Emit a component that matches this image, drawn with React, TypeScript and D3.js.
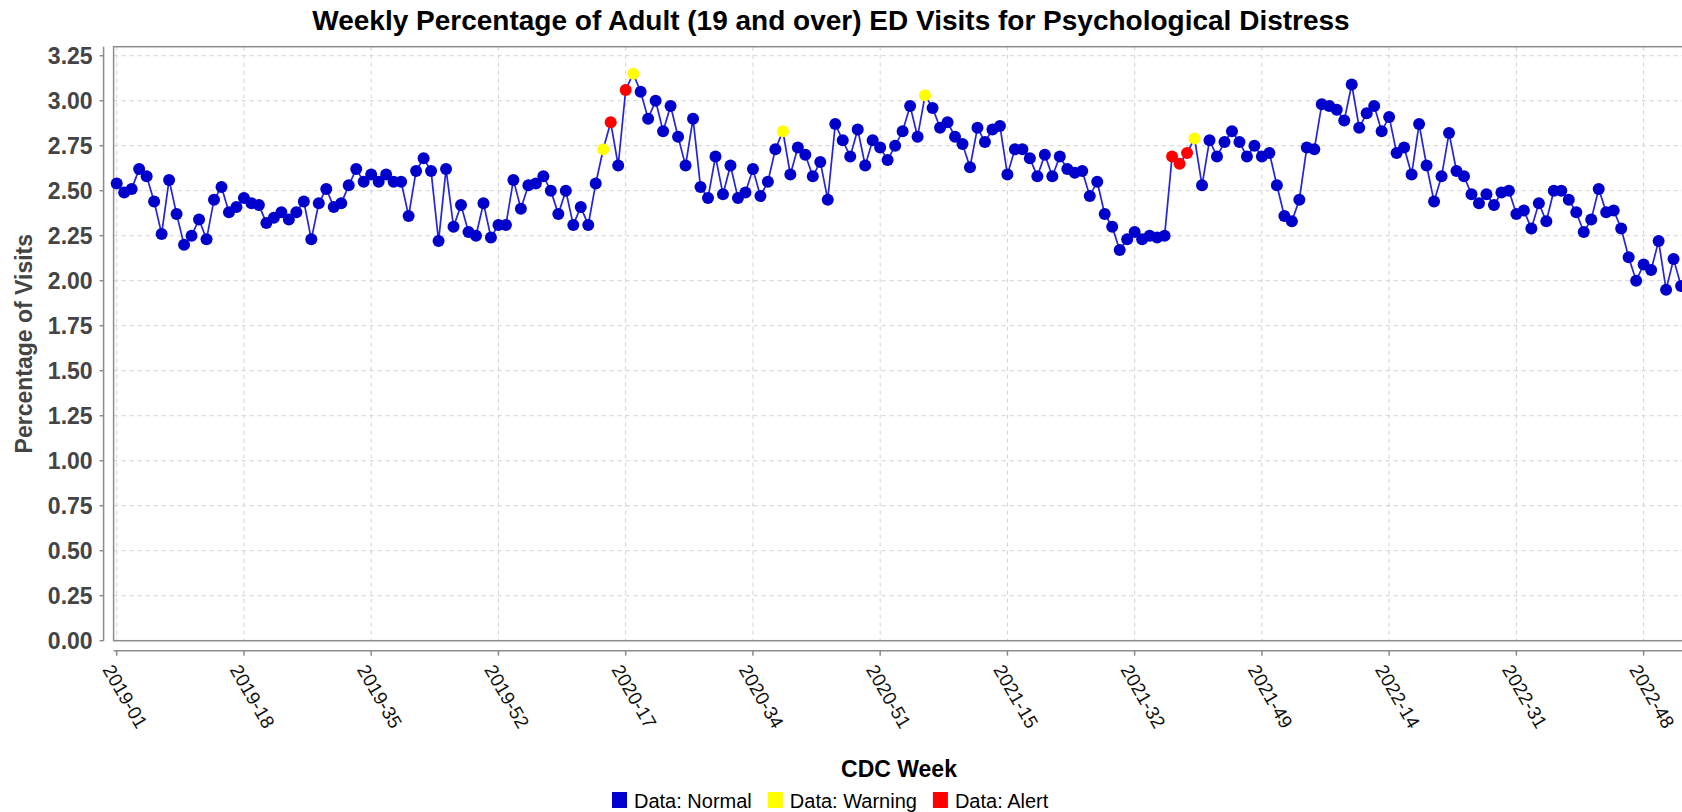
import React, { useEffect, useRef } from 'react';
import * as d3 from 'd3';

// CDC weeks shown on the category axis (2020 has 53 weeks)
const yearWeeks: [number, number][] = [[2019, 52], [2020, 53], [2021, 52], [2022, 52], [2023, 1]];
const weeks: string[] = yearWeeks.flatMap(([yr, n]) =>
  d3.range(1, n + 1).map(w => `${yr}-${String(w).padStart(2, '0')}`));

const percentValues: number[] = [
  2.54, 2.49, 2.51, 2.62, 2.58, 2.44, 2.26, 2.56, 2.37, 2.20,
  2.25, 2.34, 2.23, 2.45, 2.52, 2.38, 2.41, 2.46, 2.43, 2.42,
  2.32, 2.35, 2.38, 2.34, 2.38, 2.44, 2.23, 2.43, 2.51, 2.41,
  2.43, 2.53, 2.62, 2.55, 2.59, 2.55, 2.59, 2.55, 2.55, 2.36,
  2.61, 2.68, 2.61, 2.22, 2.62, 2.30, 2.42, 2.27, 2.25, 2.43,
  2.24, 2.31, 2.31, 2.56, 2.40, 2.53, 2.54, 2.58, 2.50, 2.37,
  2.50, 2.31, 2.41, 2.31, 2.54, 2.73, 2.88, 2.64, 3.06, 3.15,
  3.05, 2.90, 3.00, 2.83, 2.97, 2.80, 2.64, 2.90, 2.52, 2.46,
  2.69, 2.48, 2.64, 2.46, 2.49, 2.62, 2.47, 2.55, 2.73, 2.83,
  2.59, 2.74, 2.70, 2.58, 2.66, 2.45, 2.87, 2.78, 2.69, 2.84,
  2.64, 2.78, 2.74, 2.67, 2.75, 2.83, 2.97, 2.80, 3.03, 2.96,
  2.85, 2.88, 2.80, 2.76, 2.63, 2.85, 2.77, 2.84, 2.86, 2.59,
  2.73, 2.73, 2.68, 2.58, 2.70, 2.58, 2.69, 2.62, 2.60, 2.61,
  2.47, 2.55, 2.37, 2.30, 2.17, 2.23, 2.27, 2.23, 2.25, 2.24,
  2.25, 2.69, 2.65, 2.71, 2.79, 2.53, 2.78, 2.69, 2.77, 2.83,
  2.77, 2.69, 2.75, 2.69, 2.71, 2.53, 2.36, 2.33, 2.45, 2.74,
  2.73, 2.98, 2.97, 2.95, 2.89, 3.09, 2.85, 2.93, 2.97, 2.83,
  2.91, 2.71, 2.74, 2.59, 2.87, 2.64, 2.44, 2.58, 2.82, 2.61,
  2.58, 2.48, 2.43, 2.48, 2.42, 2.49, 2.50, 2.37, 2.39, 2.29,
  2.43, 2.33, 2.50, 2.50, 2.45, 2.38, 2.27, 2.34, 2.51, 2.38,
  2.39, 2.29, 2.13, 2.00, 2.09, 2.06, 2.22, 1.95, 2.12, 1.97,
];

const warningWeeks = ['2020-14', '2020-18', '2020-38', '2021-04', '2021-40'];
const alertWeeks = ['2020-15', '2020-17', '2021-37', '2021-38', '2021-39'];

const yTicks = [0, 0.25, 0.5, 0.75, 1, 1.25, 1.5, 1.75, 2, 2.25, 2.5, 2.75, 3, 3.25];
const xTickLabels = ['2019-01', '2019-18', '2019-35', '2019-52', '2020-17', '2020-34', '2020-51',
  '2021-15', '2021-32', '2021-49', '2022-14', '2022-31', '2022-48'];

const legendItems = [
  { label: 'Data: Normal', color: '#0000cc' },
  { label: 'Data: Warning', color: '#ffff00' },
  { label: 'Data: Alert', color: '#ff0000' },
];

const FONT = '"Liberation Sans", Arial, sans-serif';

const App: React.FC = () => {
  const svgRef = useRef<SVGSVGElement>(null);

  useEffect(() => {
    if (!svgRef.current) return;
    const svg = d3.select(svgRef.current);
    svg.selectAll('*').remove();

    const width = 1682;
    const plot = { left: 113.6, right: 1690, top: 46.7, bottom: 640.7 };

    const x = d3.scalePoint<string>().domain(weeks).range([116.7, 116.7 + 7.485 * (weeks.length - 1)]);
    const y = d3.scaleLinear().domain([0, 3.25]).range([640.7, 55.7]);

    const points = weeks.map((w, i) => ({
      week: w,
      value: percentValues[i],
      status: alertWeeks.includes(w) ? 'alert' : warningWeeks.includes(w) ? 'warning' : 'normal',
    }));

    // title
    svg.append('text')
      .attr('x', 831).attr('y', 29.5)
      .attr('text-anchor', 'middle')
      .attr('font-family', FONT).attr('font-weight', 'bold').attr('font-size', 28)
      .attr('fill', '#000')
      .text('Weekly Percentage of Adult (19 and over) ED Visits for Psychological Distress');

    // grid
    const grid = svg.append('g');
    grid.selectAll('.hgrid').data(yTicks).enter().append('line')
      .attr('x1', plot.left).attr('x2', plot.right)
      .attr('y1', d => y(d)).attr('y2', d => y(d))
      .attr('stroke', '#d2d2d2').attr('stroke-width', 1).attr('stroke-dasharray', '4,4');
    grid.selectAll('.vgrid').data(xTickLabels).enter().append('line')
      .attr('x1', d => x(d)!).attr('x2', d => x(d)!)
      .attr('y1', plot.top).attr('y2', plot.bottom)
      .attr('stroke', '#d2d2d2').attr('stroke-width', 1).attr('stroke-dasharray', '4,4');

    // plot frame
    svg.append('rect')
      .attr('x', plot.left).attr('y', plot.top)
      .attr('width', plot.right - plot.left).attr('height', plot.bottom - plot.top)
      .attr('fill', 'none').attr('stroke', '#8c8c8c').attr('stroke-width', 1.5);

    // y axis
    const yAxis = svg.append('g').attr('transform', 'translate(103.6,0)');
    yAxis.append('line').attr('y1', plot.top).attr('y2', plot.bottom)
      .attr('stroke', '#8c8c8c').attr('stroke-width', 1.5);
    const yt = yAxis.selectAll('.yt').data(yTicks).enter().append('g')
      .attr('transform', d => `translate(0,${y(d)})`);
    yt.append('line').attr('x1', -4).attr('x2', 0).attr('stroke', '#8c8c8c').attr('stroke-width', 1.5);
    yt.append('text')
      .attr('x', -11).attr('dy', '0.36em')
      .attr('text-anchor', 'end')
      .attr('font-family', FONT).attr('font-weight', 'bold').attr('font-size', 23)
      .attr('fill', '#444')
      .text(d => d3.format('.2f')(d));

    svg.append('text')
      .attr('transform', `translate(32,${(plot.top + plot.bottom) / 2}) rotate(-90)`)
      .attr('text-anchor', 'middle')
      .attr('font-family', FONT).attr('font-weight', 'bold').attr('font-size', 23)
      .attr('fill', '#444')
      .text('Percentage of Visits');

    // x axis
    const xAxis = svg.append('g').attr('transform', 'translate(0,650.7)');
    xAxis.append('line').attr('x1', plot.left).attr('x2', width + 10)
      .attr('stroke', '#8c8c8c').attr('stroke-width', 1.5);
    const xt = xAxis.selectAll('.xt').data(xTickLabels).enter().append('g')
      .attr('transform', d => `translate(${x(d)},0)`);
    xt.append('line').attr('y1', 0).attr('y2', 5).attr('stroke', '#8c8c8c').attr('stroke-width', 1.5);
    xt.append('text')
      .attr('transform', 'translate(-3,12) rotate(60)')
      .attr('dominant-baseline', 'hanging')
      .attr('font-family', FONT).attr('font-size', 19)
      .attr('fill', '#111')
      .text(d => d);

    svg.append('text')
      .attr('x', 899).attr('y', 777)
      .attr('text-anchor', 'middle')
      .attr('font-family', FONT).attr('font-weight', 'bold').attr('font-size', 23)
      .attr('fill', '#000')
      .text('CDC Week');

    // series
    const line = d3.line<{ week: string; value: number }>()
      .x(d => x(d.week)!)
      .y(d => y(d.value));
    svg.append('path')
      .datum(points)
      .attr('d', line)
      .attr('fill', 'none')
      .attr('stroke', '#2424dd')
      .attr('stroke-width', 1.7);

    const colorOf = (s: string) => s === 'alert' ? '#ff0000' : s === 'warning' ? '#ffff00' : '#0000cc';
    svg.selectAll('.pt').data(points).enter().append('circle')
      .attr('cx', d => x(d.week)!)
      .attr('cy', d => y(d.value))
      .attr('r', 6)
      .attr('fill', d => colorOf(d.status));

    // legend
    const legend = svg.append('g').attr('transform', 'translate(612,792)');
    let lx = 0;
    legendItems.forEach(item => {
      const g = legend.append('g').attr('transform', `translate(${lx},0)`);
      g.append('rect').attr('width', 15).attr('height', 16).attr('fill', item.color);
      const t = g.append('text')
        .attr('x', 22).attr('y', 16)
        .attr('font-family', FONT).attr('font-size', 20)
        .attr('fill', '#000')
        .text(item.label);
      const w = (t.node() as SVGTextElement).getComputedTextLength();
      lx += 22 + w + 16;
    });
  }, []);

  return (
    <svg
      ref={svgRef}
      width={1682}
      height={812}
      style={{ position: 'absolute', left: 0, top: 0, background: '#fff' }}
    />
  );
};

export default App;
